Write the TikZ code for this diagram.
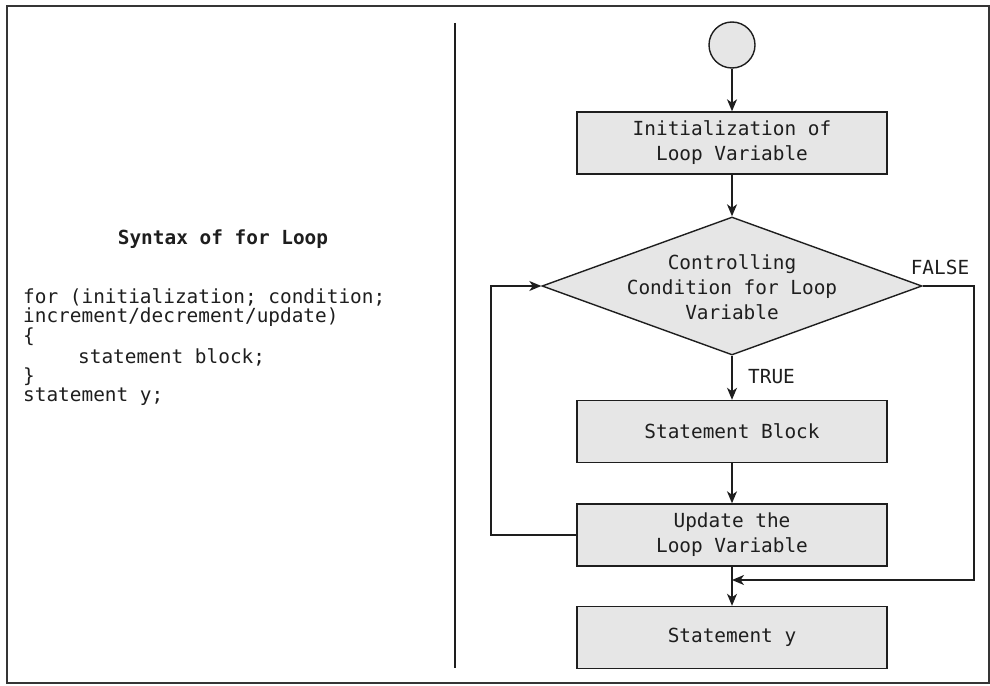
\documentclass[tikz,border=0pt]{standalone}
\usepackage{fontspec}
\setmonofont{DejaVu Sans Mono}
\usetikzlibrary{shapes.geometric,arrows.meta}
\definecolor{boxfill}{HTML}{E6E6E6}
\definecolor{inkc}{HTML}{1E1E1E}
\tikzset{
  mono/.style={font=\ttfamily\fontsize{19.4}{25}\selectfont, text=inkc, inner sep=0pt},
  stepbox/.style={mono, draw=inkc, fill=boxfill, line width=1.4pt, minimum width=310pt, minimum height=62pt, align=center},
  conn/.style={draw=inkc, line width=1.4pt},
  arr/.style={conn, -{Stealth[length=12pt,width=10pt,inset=3.5pt]}},
}
\begin{document}
\begin{tikzpicture}[x=1pt,y=-1pt]
\useasboundingbox (0,0) rectangle (990,685);
% frame and divider
\draw[draw=inkc!90, line width=2pt] (7,6.5) rectangle (989,683);
\draw[draw=inkc, line width=1.5pt] (455,23) -- (455,668);
% left text
\node[mono, font=\ttfamily\bfseries\fontsize{19.4}{25}\selectfont] (title) at (223,239) {Syntax of for Loop};
\node[mono, anchor=west] (c1) at (23,297) {for (initialization; condition;};
\node[mono, anchor=west] (c2) at (23,317) {increment/decrement/update)};
\node[mono, anchor=west] (c3) at (23,337) {\{};
\node[mono, anchor=west] (c4) at (78,357) {statement block;};
\node[mono, anchor=west] (c5) at (23,377) {\}};
\node[mono, anchor=west] (c6) at (23,397) {statement y;};
% flowchart
\node[circle, draw=inkc, fill=boxfill, line width=1.4pt, minimum size=46pt, inner sep=0pt] (start) at (732,45) {};
\node[stepbox] (init) at (732,143) {Initialization of\\Loop Variable};
\node[diamond, draw=inkc, fill=boxfill, line width=1.4pt, minimum width=380pt, minimum height=138pt, inner sep=0pt] (cond) at (732,286) {};
\node[mono, align=center] (condtxt) at (732,287) {Controlling\\Condition for Loop\\Variable};
\node[stepbox] (sb) at (732,431.5) {Statement Block};
\node[stepbox] (upd) at (732,535) {Update the\\Loop Variable};
\node[stepbox] (sy) at (732,637.5) {Statement y};
\node[mono] (false) at (940,267) {FALSE};
\node[mono, anchor=west] (true) at (748,377) {TRUE};
\coordinate (merge) at (732,580);
\coordinate (lb) at (491,535);
\coordinate (lt) at (491,286);
\coordinate (rt) at (974,286);
\coordinate (rb) at (974,580);
\draw[arr] (start.south) -- (init.north);
\draw[arr] (init.south) -- (cond.north);
\draw[arr] (cond.south) -- (sb.north);
\draw[arr] (sb.south) -- (upd.north);
\draw[arr] (upd.south) -- (sy.north);
\draw[arr] (upd.west) -- (lb) -- (lt) -- (cond.west);
\draw[arr] (cond.east) -- (rt) -- (rb) -- (merge);
\end{tikzpicture}
\end{document}
